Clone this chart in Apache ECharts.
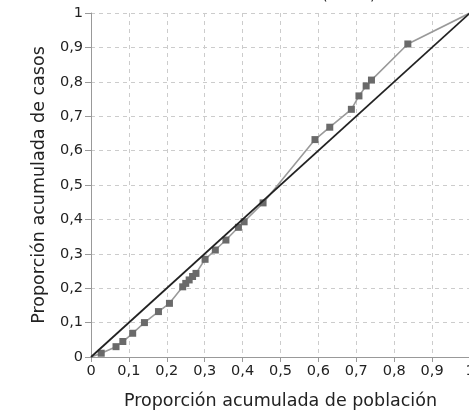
<!DOCTYPE html>
<html>
<head>
<meta charset="utf-8">
<script src="https://cdn.jsdelivr.net/npm/echarts@6/dist/echarts.min.js"></script>
<style>html,body{margin:0;padding:0;background:#fff}#c{width:469px;height:413px}</style>
</head>
<body>
<div id="c"></div>
<script>
var titleText = "Curva de concentración (casos)";
var xAxisName = "Proporción acumulada de población";
var yAxisName = "Proporción acumulada de casos";
var popCum = [0, 0.027, 0.066, 0.084, 0.11, 0.141, 0.178, 0.207, 0.242, 0.25, 0.259, 0.268, 0.277, 0.301, 0.328, 0.356, 0.389, 0.404, 0.454, 0.591, 0.63, 0.687, 0.707, 0.726, 0.74, 0.836, 1];
var casesCum = [0, 0.011, 0.03, 0.045, 0.069, 0.1, 0.132, 0.156, 0.204, 0.214, 0.224, 0.234, 0.243, 0.284, 0.311, 0.34, 0.377, 0.393, 0.448, 0.632, 0.668, 0.72, 0.759, 0.788, 0.805, 0.91, 1];
var equality = [[0, 0], [1, 1]];

function fmt(v) {
  if (v === 0) return '0';
  if (Math.abs(v - 1) < 1e-9) return '1';
  return v.toFixed(1).replace('.', ',');
}
var curve = popCum.map(function (x, i) {
  var p = { value: [x, casesCum[i]] };
  if (i === 0 || i === popCum.length - 1) p.symbol = 'none';
  return p;
});
var chart = echarts.init(document.getElementById('c'), null, { renderer: 'canvas' });
var labelStyle = { color: '#222', fontFamily: 'DejaVu Sans', fontSize: 14.5 };
chart.setOption({
  animation: false,
  title: { text: titleText, left: 252, textAlign: 'center', top: -17,
    textStyle: { fontFamily: 'DejaVu Sans', fontSize: 15, fontWeight: 'normal', color: '#222' } },
  grid: { left: 91, width: 379, top: 13, height: 344, containLabel: false, outerBoundsMode: 'none' },
  xAxis: {
    type: 'value', min: 0, max: 1, interval: 0.1,
    name: xAxisName, nameLocation: 'middle', nameGap: 35,
    nameTextStyle: { color: '#222', fontFamily: 'DejaVu Sans', fontSize: 17.5 },
    axisLine: { show: true, lineStyle: { color: '#999', width: 1 } },
    axisTick: { show: true, length: 5, lineStyle: { color: '#999' } },
    axisLabel: Object.assign({ formatter: fmt, margin: 7, showMaxLabel: true }, labelStyle),
    splitLine: { show: true, lineStyle: { color: '#ccc', type: [4, 4] } }
  },
  yAxis: {
    type: 'value', min: 0, max: 1, interval: 0.1,
    name: yAxisName, nameLocation: 'middle', nameGap: 43,
    nameTextStyle: { color: '#222', fontFamily: 'DejaVu Sans', fontSize: 17.5 },
    axisLine: { show: true, lineStyle: { color: '#999', width: 1 } },
    axisTick: { show: true, length: 6, lineStyle: { color: '#999' } },
    axisLabel: Object.assign({ formatter: fmt, margin: 8 }, labelStyle),
    splitLine: { show: true, lineStyle: { color: '#ccc', type: [4, 4] } }
  },
  series: [
    {
      type: 'line', data: equality, symbol: 'none', silent: true,
      lineStyle: { color: '#222', width: 1.8 }, z: 3
    },
    {
      type: 'line', data: curve, symbol: 'rect', symbolSize: 7,
      itemStyle: { color: '#6a6a6a' },
      lineStyle: { color: '#9a9a9a', width: 1.6 }, z: 2
    }
  ]
});
</script>
</body>
</html>
